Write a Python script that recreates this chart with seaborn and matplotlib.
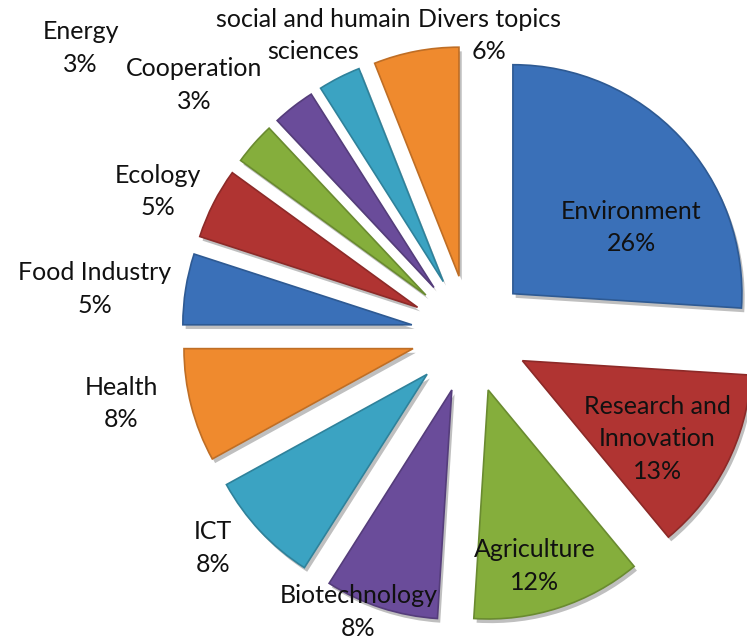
import numpy as np
import matplotlib
matplotlib.use("Agg")
import matplotlib.pyplot as plt
import matplotlib.patheffects as pe
import seaborn as sns

# --------------------------------------------------------------
# Data
# --------------------------------------------------------------
topics = ["Environment", "Research and\nInnovation", "Agriculture", "Biotechnology",
          "ICT", "Health", "Food Industry", "Ecology", "Energy", "Cooperation",
          "social and humain\nsciences", "Divers topics"]
shares = [26, 13, 12, 8, 8, 8, 5, 5, 3, 3, 3, 6]
show_pct = [True] * len(shares)
show_pct[10] = False  # percentage of this label is cut off in the original

# Excel-like palette (repeats every 6 slices)
base_cols = ["#3A70B8", "#B03432", "#85AE3C", "#6A4C9A", "#3BA3C2", "#EF8A2E"]
colors = [base_cols[i % 6] for i in range(len(shares))]

# label centres, in pie-radius units from the pie centre
label_xy = [(0.704, 0.465), (0.817, -0.457), (0.283, -1.013), (-0.487, -1.213),
            (-1.122, -0.935), (-1.522, -0.304), (-1.639, 0.196), (-1.361, 0.622),
            (-1.700, 1.248), (-1.204, 1.087), (-0.683, 1.304), (0.083, 1.304)]

# --------------------------------------------------------------
# Figure
# --------------------------------------------------------------
sns.set_theme(style="white")
plt.rcParams["font.family"] = ["Lato", "DejaVu Sans"]

R_PX = 229.0
CX, CY = 470.0, 334.0
W, H = 747, 640

fig = plt.figure(figsize=(W / 100, H / 100), dpi=100)
ax = fig.add_axes([0, 0, 1, 1])

wedges, _ = ax.pie(shares, colors=colors, startangle=90, counterclock=False,
                   explode=[0.257] * len(shares), radius=1.0,
                   wedgeprops=dict(linewidth=1.2, edgecolor="white"))

for w, c in zip(wedges, colors):
    rgb = np.array(matplotlib.colors.to_rgb(c))
    w.set_edgecolor(tuple(np.clip(rgb * 0.8, 0, 1)))
    w.set_path_effects([pe.SimplePatchShadow(offset=(2, -3), alpha=0.25, shadow_rgbFace="black"),
                        pe.Normal()])

total = float(sum(shares))
for i, w in enumerate(wedges):
    x, y = label_xy[i]
    txt = topics[i]
    if show_pct[i]:
        txt += "\n{:.0f}%".format(shares[i] / total * 100)
    ax.text(x, y, txt, ha="center", va="center", fontsize=18,
            color="#111111", linespacing=1.5)

ax.set_xlim(-CX / R_PX, (W - CX) / R_PX)
ax.set_ylim((CY - H) / R_PX, CY / R_PX)
ax.set_aspect("auto")
ax.axis("off")

fig.savefig("out.png", dpi=100, facecolor="white")
plt.close(fig)
